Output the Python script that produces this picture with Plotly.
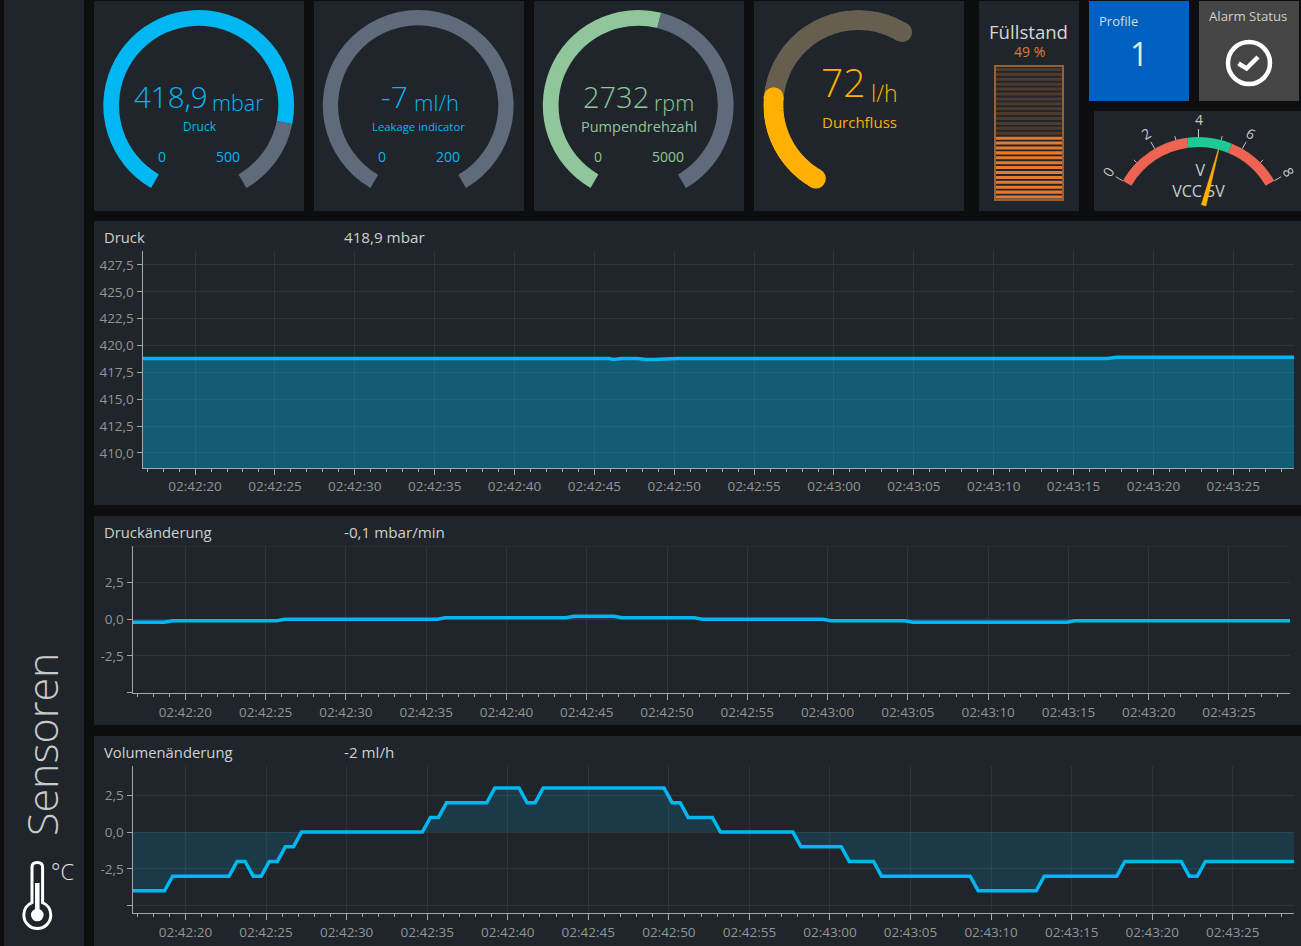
import numpy as np
import plotly.graph_objects as go

W = 1301
H = 946

BG = "#0c0d0e"
PANEL = "#1f252a"
BLUE = "#00b7f1"
TRACK = "#5f6a7b"
GREEN = "#8fc79a"
AMBER = "#ffb000"
ORANGE = "#e8782c"
GRID = "#2e343a"
AXIS = "#a6a6a6"
TICK_TEXT = "#949494"
TITLE_TEXT = "#d0d0d0"
FONT = "Open Sans"

# gauges
pressure_value = 418.9
pressure_max = 500
leak_value = 0  # shows -7 but the arc stays empty below zero
leak_max = 200
rpm_value = 2732
rpm_max = 5000
flow_value = 72
flow_max = 200
flow_sweep_max = 181

# fill level, 27 stripes
fill_percent = 49
fill_stripes = list(range(27))

# vcc meter, scale 0..8
vcc_value = 5
vcc_max = 8
vcc_bands = [3.5, 2, 2.5]
vcc_major = [0, 2, 4, 6, 8]
vcc_minor = [1, 3, 5, 7]

# trends
druck_times = ["02:42:16.7", "02:42:45.9", "02:42:46.2", "02:42:46.7", "02:42:47.7", "02:42:48.2",
               "02:42:48.7", "02:42:49.2", "02:42:49.5", "02:42:50.2", "02:43:17.1", "02:43:17.7", "02:43:28.8"]
druck_values = [418.8, 418.8, 418.7, 418.8, 418.8, 418.7, 418.7, 418.75, 418.7, 418.8, 418.8, 418.9, 418.9]
druck_ticks = [410, 412.5, 415, 417.5, 420, 422.5, 425, 427.5]

rate_times = ["02:42:16.7", "02:42:18.7", "02:42:19.2", "02:42:25.7", "02:42:26.2", "02:42:35.7", "02:42:36.2",
              "02:42:43.7", "02:42:44.2", "02:42:46.7", "02:42:47.2", "02:42:51.7", "02:42:52.2", "02:42:59.7",
              "02:43:00.2", "02:43:04.8", "02:43:05.3", "02:43:14.9", "02:43:15.4", "02:43:28.8"]
rate_values = [-0.2, -0.2, -0.1, -0.1, 0, 0, 0.1, 0.1, 0.2, 0.2, 0.1, 0.1, 0, 0, -0.1, -0.1, -0.2, -0.2, -0.1, -0.1]

vol_times = ["02:42:16.7", "02:42:18.7", "02:42:19.2", "02:42:22.7", "02:42:23.2", "02:42:23.7", "02:42:24.2",
             "02:42:24.7", "02:42:25.2", "02:42:25.7", "02:42:26.2", "02:42:26.7", "02:42:27.2", "02:42:34.7",
             "02:42:35.2", "02:42:35.7", "02:42:36.2", "02:42:38.7", "02:42:39.2", "02:42:40.7", "02:42:41.2",
             "02:42:41.7", "02:42:42.2", "02:42:49.7", "02:42:50.2", "02:42:50.7", "02:42:51.2", "02:42:52.7",
             "02:42:53.2", "02:42:57.7", "02:42:58.2", "02:43:00.7", "02:43:01.2", "02:43:02.7", "02:43:03.2",
             "02:43:08.7", "02:43:09.2", "02:43:12.8", "02:43:13.3", "02:43:17.8", "02:43:18.3", "02:43:21.8",
             "02:43:22.3", "02:43:22.8", "02:43:23.3", "02:43:28.8"]
vol_values = [-4, -4, -3, -3, -2, -2, -3, -3, -2, -2, -1, -1, 0, 0, 1, 1, 2, 2, 3, 3, 2, 2, 3, 3, 2, 2, 1, 1,
              0, 0, -1, -1, -2, -2, -3, -3, -4, -4, -3, -3, -2, -2, -3, -3, -2, -2]

small_ticks = [-5, -2.5, 0, 2.5]
small_tick_labels = ["", "-2,5", "0,0", "2,5"]


def px(x):
    return x / W


def py(y):
    return 1 - y / H


def stamp(times):
    return ["2024-01-01 " + t for t in times]


shapes = []
annotations = []
traces = []


def panel(x0, y0, x1, y1, color=PANEL):
    shapes.append(dict(type="rect", xref="paper", yref="paper", x0=px(x0), x1=px(x1), y0=py(y0), y1=py(y1),
                       fillcolor=color, line_width=0, layer="below"))


def label(x, y, text, size, color, anchor="center", weight=400, angle=0):
    annotations.append(dict(x=px(x), y=py(y), xref="paper", yref="paper", text=text, showarrow=False,
                            xanchor=anchor, yanchor="middle", textangle=angle,
                            font=dict(family=FONT, size=size, color=color, weight=weight)))


def square_domain(cx, cy, r):
    return dict(x=[px(cx - r), px(cx + r)], y=[py(cy + r), py(cy - r)])


def ring(cx, cy, r, hole, values, colors, rotation):
    traces.append(go.Pie(values=values, marker=dict(colors=colors, line=dict(width=0)), hole=hole, sort=False,
                         direction="clockwise", rotation=rotation, textinfo="none", hoverinfo="skip",
                         showlegend=False, domain=square_domain(cx, cy, r)))


def path(*parts):
    # parts are command letters and (x, y) points in page pixels
    out = []
    for p in parts:
        out.append(p if isinstance(p, str) else f"{px(p[0]):.5f},{py(p[1]):.5f}")
    return " ".join(out)


# panels
panel(4, 0, 84, 946)
for x in [94, 314, 534, 754]:
    panel(x, 1, x + 210, 211)
panel(979, 1, 1079, 211)
panel(1089, 1, 1189, 101, "#0060bf")
panel(1199, 1, 1299, 101, "#454545")
panel(1094, 111, 1301, 211)
panel(94, 221, 1301, 505)
panel(94, 516, 1301, 725)
panel(94, 736, 1301, 946)

# sidebar
label(41, 745, "Sensoren", 43, "#c9c9c9", weight=300, angle=-90)
label(62.5, 871, "°C", 22, "#e6e6e6", weight=300)
shapes.append(dict(type="path", xref="paper", yref="paper", line=dict(color="white", width=3), layer="above",
                   path=path("M", (32, 902.6), "L", (32, 867), "Q", (32, 862.5), (37.3, 862.5),
                             "Q", (42.6, 862.5), (42.6, 867), "L", (42.6, 902.6),
                             "C", (47.5, 904.5), (50.8, 909.5), (50.8, 915),
                             "C", (50.8, 922.5), (44.7, 928.5), (37.3, 928.5),
                             "C", (29.9, 928.5), (23.8, 922.5), (23.8, 915),
                             "C", (23.8, 909.5), (27.1, 904.5), (32, 902.6), "Z")))
shapes.append(dict(type="line", xref="paper", yref="paper", x0=px(37.3), x1=px(37.3), y0=py(883), y1=py(915),
                   line=dict(color="white", width=4.5)))
shapes.append(dict(type="circle", xref="paper", yref="paper", x0=px(31), x1=px(43.6), y0=py(921.3), y1=py(908.7),
                   fillcolor="white", line_width=0))

# three arc gauges, 300 degrees of arc, gap is one fifth of the scale
ring(198.7, 105.4, 95.4, 0.835, [pressure_value, pressure_max - pressure_value, pressure_max / 5],
     [BLUE, TRACK, "rgba(0,0,0,0)"], 210)
ring(418.2, 105.4, 95.4, 0.84, [leak_value, leak_max - leak_value, leak_max / 5],
     [BLUE, TRACK, "rgba(0,0,0,0)"], 210)
ring(638.2, 105.4, 95.4, 0.835, [rpm_value, rpm_max - rpm_value, rpm_max / 5],
     [GREEN, TRACK, "rgba(0,0,0,0)"], 210)

label(171, 96.5, "418,9", 29.5, BLUE, weight=300)
label(238, 102.5, "mbar", 21.5, BLUE, weight=300)
label(199.5, 126.5, "Druck", 12, BLUE)
label(162, 156.5, "0", 14, BLUE)
label(228, 156.5, "500", 14, BLUE)

label(394, 96.5, "-7", 30, BLUE, weight=300)
label(436, 102.5, "ml/h", 22, BLUE, weight=300)
label(418.5, 127, "Leakage indicator", 11.3, BLUE)
label(381.5, 156.5, "0", 14, BLUE)
label(448, 156.5, "200", 14, BLUE)

label(616, 96.5, "2732", 29, GREEN, weight=300)
label(673.5, 102.5, "rpm", 21.5, GREEN, weight=300)
label(639, 126.5, "Pumpendrehzahl", 14.5, GREEN)
label(598, 156.5, "0", 14, GREEN)
label(668, 156.5, "5000", 14, GREEN)

# flow gauge has round ends, so it goes on a polar subplot
flow_start = 210
flow_track = np.linspace(flow_start, flow_start + flow_sweep_max, 80)
flow_bar = np.linspace(flow_start, flow_start + flow_sweep_max * flow_value / flow_max, 60)
for theta, color in [(flow_track, "#665f4f"), (flow_bar, AMBER)]:
    traces.append(go.Scatterpolar(r=[85] * len(theta), theta=theta, mode="lines", line=dict(color=color, width=20),
                                  hoverinfo="skip", showlegend=False, subplot="polar"))
    traces.append(go.Scatterpolar(r=[85, 85], theta=[theta[0], theta[-1]], mode="markers",
                                  marker=dict(color=color, size=20, line_width=0), hoverinfo="skip",
                                  showlegend=False, subplot="polar"))
label(844, 82, "72", 39, AMBER, weight=300)
label(884.5, 93, "l/h", 23, AMBER, weight=300)
label(859, 121.5, "Durchfluss", 15, AMBER)

# fill level
label(1028.5, 31.5, "Füllstand", 18.6, "#d6d6d6")
label(1029, 51, f"{fill_percent} %", 14, ORANGE)
shapes.append(dict(type="rect", xref="paper", yref="paper", x0=px(995), x1=px(1063), y0=py(200), y1=py(66),
                   fillcolor="rgba(0,0,0,0)", line=dict(color="#9c5f2e", width=2), layer="below"))
fill_colors = [ORANGE if (i + 0.5) / len(fill_stripes) * 100 < fill_percent else "#4e3a2c" for i in fill_stripes]
traces.append(go.Bar(x=[1] * len(fill_stripes), y=fill_stripes, orientation="h", width=0.62,
                     marker=dict(color=fill_colors, line_width=0), hoverinfo="skip", showlegend=False,
                     xaxis="x4", yaxis="y4"))

# tiles
label(1097, 21, "Profile", 13, "#d4dbe6", anchor="left")
label(1139, 54, "1", 32, "#e8e8e8")
label(1248, 16, "Alarm Status", 13.2, "#cfcfcf")
shapes.append(dict(type="circle", xref="paper", yref="paper", x0=px(1228), x1=px(1270), y0=py(84), y1=py(42),
                   line=dict(color="white", width=4.5), layer="above"))
shapes.append(dict(type="path", xref="paper", yref="paper", line=dict(color="white", width=4.5), layer="above",
                   path=path("M", (1238.5, 63.5), "L", (1246.5, 68.5), "L", (1258, 57))))

# vcc meter
ring(1198.5, 224.5, 87.5, 0.886, vcc_bands + [vcc_max * 2], ["#ee6352", "#1fc996", "#ee6352", "rgba(0,0,0,0)"], 300)


def vcc_angle(v):
    return -60 + 120 * v / vcc_max


for v in vcc_major:
    traces.append(go.Scatterpolar(r=[87.5, 95.5], theta=[vcc_angle(v)] * 2, mode="lines",
                                  line=dict(color="#c4c4c4", width=1), hoverinfo="skip", showlegend=False,
                                  subplot="polar2"))
    a = np.radians(vcc_angle(v))
    label(1198.5 + 105 * np.sin(a), 224.5 - 105 * np.cos(a), str(v), 14, "#c8c8c8", angle=vcc_angle(v))
for v in vcc_minor:
    traces.append(go.Scatterpolar(r=[87.5, 91.5], theta=[vcc_angle(v)] * 2, mode="lines",
                                  line=dict(color="#c4c4c4", width=1), hoverinfo="skip", showlegend=False,
                                  subplot="polar2"))
traces.append(go.Scatterpolar(r=[53, 32], theta=[2, 0], mode="text", text=["V", "VCC 5V"],
                              textfont=dict(family=FONT, size=16, color="#cccccc"), hoverinfo="skip",
                              showlegend=False, subplot="polar2"))
needle = vcc_angle(vcc_value)
traces.append(go.Scatterpolar(r=[20, 84.8, 20, 20], theta=[needle - 7, needle, needle + 7, needle - 7], mode="lines",
                              fill="toself", fillcolor=AMBER, line=dict(color=AMBER, width=0.5), hoverinfo="skip",
                              showlegend=False, subplot="polar2"))

# trend charts
traces.append(go.Scatter(x=stamp(druck_times), y=druck_values, mode="lines", fill="tozeroy",
                         fillcolor="rgba(0,183,241,0.38)", line=dict(color=BLUE, width=3.5), hoverinfo="skip",
                         showlegend=False, xaxis="x", yaxis="y"))
traces.append(go.Scatter(x=stamp(rate_times), y=rate_values, mode="lines", fill="tozeroy",
                         fillcolor="rgba(0,183,241,0.15)", line=dict(color=BLUE, width=3.5), hoverinfo="skip",
                         showlegend=False, xaxis="x2", yaxis="y2"))
traces.append(go.Scatter(x=stamp(vol_times), y=vol_values, mode="lines", fill="tozeroy",
                         fillcolor="rgba(0,183,241,0.15)", line=dict(color=BLUE, width=3.5), hoverinfo="skip",
                         showlegend=False, xaxis="x3", yaxis="y3"))

label(102, 237, "Druck", 14.8, TITLE_TEXT, anchor="left")
label(342, 237, "418,9 mbar", 15.2, TITLE_TEXT, anchor="left")
label(102, 532, "Druckänderung", 14.8, TITLE_TEXT, anchor="left")
label(342, 532, "-0,1 mbar/min", 15.2, TITLE_TEXT, anchor="left")
label(102, 752, "Volumenänderung", 14.8, TITLE_TEXT, anchor="left")
label(342, 752, "-2 ml/h", 15.2, TITLE_TEXT, anchor="left")

# top grid line of the middle chart has no tick of its own
shapes.append(dict(type="line", xref="x2 domain", yref="y2", x0=0, x1=1, y0=5, y1=5, line=dict(color=GRID, width=1),
                   layer="below"))


def time_axis(x0, x1, anchor):
    return dict(domain=[px(x0), px(x1)], anchor=anchor, type="date",
                range=["2024-01-01 02:42:16.71", "2024-01-01 02:43:28.8"],
                tick0="2024-01-01 02:42:20", dtick=5000, tickformat="%H:%M:%S",
                ticks="outside", ticklen=6, tickcolor=AXIS, tickwidth=1, ticklabelstandoff=0,
                minor=dict(dtick=1000, ticks="outside", ticklen=3, tickcolor=AXIS, showgrid=False),
                showline=True, linecolor=AXIS, linewidth=1, showgrid=True, gridcolor=GRID, gridwidth=1,
                zeroline=False, tickfont=dict(family=FONT, size=13.5, color=TICK_TEXT))


def value_axis(y0, y1, anchor, low, high, **extra):
    return dict(domain=[py(y1), py(y0)], anchor=anchor, range=[low, high], ticks="outside", ticklen=5, tickcolor=AXIS,
                tickwidth=1, showline=True, linecolor=AXIS, linewidth=1, showgrid=True, gridcolor=GRID, gridwidth=1,
                zeroline=False, tickfont=dict(family=FONT, size=13.5, color=TICK_TEXT), **extra)


hidden = dict(showgrid=False, showticklabels=False, ticks="", showline=False, zeroline=False)

fig = go.Figure(traces)
fig.update_layout(
    width=W, height=H, autosize=False, margin=dict(l=0, r=0, t=0, b=0, pad=0),
    paper_bgcolor=BG, plot_bgcolor="rgba(0,0,0,0)", showlegend=False, hovermode=False, separators=",.",
    shapes=shapes, annotations=annotations, font=dict(family=FONT),
    xaxis=time_axis(142.5, 1294, "y"),
    yaxis=value_axis(251, 468, "x", 408.6, 428.8, tickvals=druck_ticks, tickformat=".1f"),
    xaxis2=time_axis(132.5, 1290, "y2"),
    yaxis2=value_axis(546, 693.3, "x2", -5.05, 5, tickvals=small_ticks, ticktext=small_tick_labels),
    xaxis3=time_axis(132.5, 1294, "y3"),
    yaxis3=value_axis(766, 913.3, "x3", -5.53, 4.5, tickvals=small_ticks, ticktext=small_tick_labels),
    xaxis4=dict(domain=[px(996), px(1062)], anchor="y4", range=[0, 1], **hidden),
    yaxis4=dict(domain=[py(199.5), py(67)], anchor="x4", range=[-0.5, 26.5], **hidden),
    polar=dict(domain=square_domain(858.3, 105, 95), bgcolor="rgba(0,0,0,0)",
               radialaxis=dict(visible=False, range=[0, 95]),
               angularaxis=dict(visible=False, direction="clockwise", rotation=90)),
    polar2=dict(domain=square_domain(1198.5, 224.5, 100), bgcolor="rgba(0,0,0,0)",
                radialaxis=dict(visible=False, range=[0, 100]),
                angularaxis=dict(visible=False, direction="clockwise", rotation=90)),
)

fig.write_html("out.html", config=dict(displayModeBar=False),
               post_script="document.body.style.margin='0';document.body.style.overflow='hidden';")
